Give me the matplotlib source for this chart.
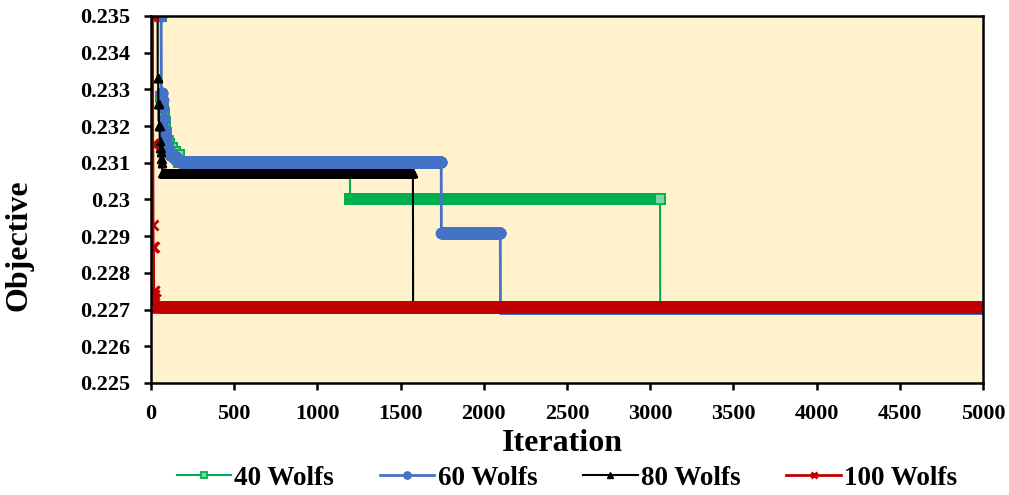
import numpy as np
import matplotlib
matplotlib.use("Agg")
import matplotlib.pyplot as plt
import matplotlib.ticker as ticker

plt.rcParams["font.family"] = ["Liberation Serif", "DejaVu Serif"]
plt.rcParams["font.weight"] = "bold"

# ── Data: iteration where each value starts (held until the next change) ─────
n_iter = 5000

green_iter = [1, 55, 60, 65, 70, 78, 85, 92, 100, 110, 125, 145, 170, 1196, 3060]
green_val  = [0.2400, 0.2350, 0.2328, 0.2326, 0.2323, 0.2321, 0.2318, 0.2316,
              0.2315, 0.2314, 0.2313, 0.2312, 0.23102, 0.23001, 0.22706]

blue_iter = [1, 58, 62, 66, 70, 75, 80, 85, 90, 96, 105, 115, 130, 150, 175, 1745, 2100]
blue_val  = [0.2400, 0.2350, 0.2329, 0.2327, 0.2325, 0.2322, 0.2319, 0.2317, 0.2315,
             0.23135, 0.2313, 0.23122, 0.23115, 0.23108, 0.23102, 0.22909, 0.22705]

black_iter = [1, 40, 44, 48, 52, 55, 58, 61, 64, 68, 1575]
black_val  = [0.2400, 0.2333, 0.2326, 0.2320, 0.2316, 0.2314, 0.2313, 0.2311,
              0.2310, 0.23072, 0.22708]

red_iter = [1, 8, 10, 12, 13, 16, 18, 20, 24]
red_val  = [0.2400, 0.2350, 0.2315, 0.2293, 0.2287, 0.2275, 0.2274, 0.2273, 0.22708]

labels = ["40 Wolfs", "60 Wolfs", "80 Wolfs", "100 Wolfs"]
x_ticks = list(range(0, 5001, 500))
y_ticks = [0.225, 0.226, 0.227, 0.228, 0.229, 0.23, 0.231, 0.232, 0.233, 0.234, 0.235]


def expand(starts, values):
    lengths = np.diff(list(starts) + [n_iter + 1])
    return np.repeat(values, lengths)


iters = np.arange(1, n_iter + 1)

fig = plt.figure(figsize=(10.09, 4.95), dpi=100)
ax = fig.add_axes([0.1497, 0.2263, 0.8245, 0.7414])
ax.set_facecolor("#FFF2CC")

styles = [
    (green_iter, green_val, dict(color="#00B050", marker="s", markersize=7,
                                 markerfacecolor="#7FD7A7", markeredgewidth=1.3, lw=1.5)),
    (blue_iter, blue_val, dict(color="#4472C4", marker="o", markersize=7.5, lw=2)),
    (black_iter, black_val, dict(color="black", marker="^", markersize=5.5, lw=1.5)),
    (red_iter, red_val, dict(color="#C00000", marker="x", markersize=6.5,
                             markeredgewidth=2, lw=2)),
]

for (st, vl, kw), lab in zip(styles, labels):
    ax.plot(iters, expand(st, vl), label=lab, **kw)

ax.set_xlim(0, 5000)
ax.set_ylim(0.225, 0.235)
ax.set_xticks(x_ticks)
ax.set_yticks(y_ticks)
ax.yaxis.set_major_formatter(ticker.FuncFormatter(lambda v, p: f"{v:g}"))
ax.tick_params(direction="out", length=5, width=1.8, labelsize=16, pad=10)
for s in ax.spines.values():
    s.set_linewidth(1.8)
    s.set_color("black")

ax.set_xlabel("Iteration", fontsize=23, fontweight="bold")
ax.set_ylabel("Objective", fontsize=23, fontweight="bold")
ax.xaxis.set_label_coords(0.494, -0.126)
ax.yaxis.set_label_coords(-0.141, 0.376)

ax.legend(loc="center", bbox_to_anchor=(0.5, -0.26), ncol=4, frameon=False,
          fontsize=19.5, handlelength=2.0, handletextpad=0.12, columnspacing=1.7,
          markerscale=0.7)

fig.savefig("out.png", dpi=100)
